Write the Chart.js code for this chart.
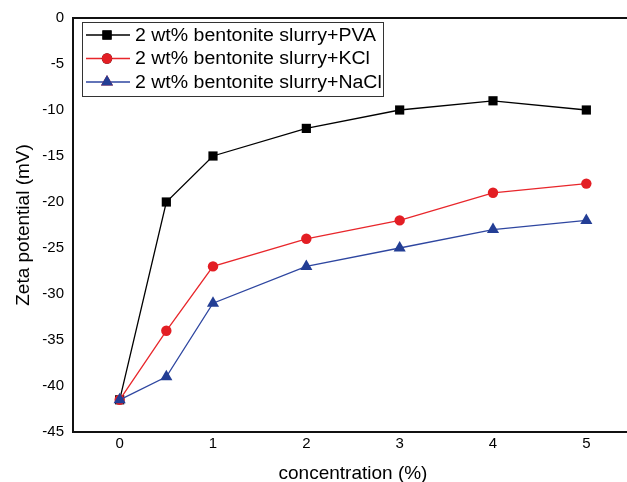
<!DOCTYPE html>
<html lang="en">
<head>
  <meta charset="UTF-8">
  <title>Zeta potential vs concentration</title>
  <script src="https://cdn.jsdelivr.net/npm/chart.js"></script>
  <style>
    html, body { margin: 0; padding: 0; background: #fff; overflow: hidden; }
    #wrap { width: 640px; height: 482px; }
  </style>
</head>
<body>
  <div id="wrap"><canvas id="zetaChart" width="640" height="482"></canvas></div>

  <script>
    const concentration = [0, 0.5, 1, 2, 3, 4, 5];
    const pvaValues  = [-41.5, -20, -15, -12, -10, -9, -10];
    const kclValues  = [-41.5, -34, -27, -24, -22, -19, -18];
    const naclValues = [-41.5, -39, -31, -27, -25, -23, -22];
    const seriesLabels = [
      '2 wt% bentonite slurry+PVA',
      '2 wt% bentonite slurry+KCl',
      '2 wt% bentonite slurry+NaCl'
    ];
    const xTicks = [0, 1, 2, 3, 4, 5];
    const yTicks = [0, -5, -10, -15, -20, -25, -30, -35, -40, -45];

    const FONT = 'Arial, "Liberation Sans", sans-serif';

    function toPoints(vals) {
      return concentration.map((c, i) => ({ x: c, y: vals[i] }));
    }

    // frame line along the top + legend box inside the plot
    const framePlugin = {
      id: 'frame',
      afterDraw(chart) {
        const ctx = chart.ctx;
        const a = chart.chartArea;
        ctx.save();
        ctx.strokeStyle = '#111';
        ctx.lineWidth = 2;
        ctx.beginPath();
        ctx.moveTo(a.left, a.top);
        ctx.lineTo(a.right + 5, a.top);
        ctx.stroke();

        // legend
        ctx.lineWidth = 1;
        ctx.strokeStyle = '#333';
        ctx.strokeRect(82.5, 22.5, 301, 74);
        ctx.font = '18px ' + FONT;
        ctx.textBaseline = 'middle';
        // the original lettering is a bit wider than Arial, stretch it a little
        const stretch = 241 / ctx.measureText(seriesLabels[0]).width;
        chart.data.datasets.forEach((ds, i) => {
          const y = 35 + i * 23.5;
          ctx.strokeStyle = ds.borderColor;
          ctx.lineWidth = 1.3;
          ctx.beginPath();
          ctx.moveTo(86, y);
          ctx.lineTo(130, y);
          ctx.stroke();
          Chart.helpers.drawPoint(ctx, {
            pointStyle: ds.pointStyle,
            radius: ds.pointRadius,
            rotation: 0,
            borderWidth: 0
          }, 107, y);
          ctx.fillStyle = ds.pointBackgroundColor;
          ctx.fill();
          ctx.save();
          ctx.translate(135, y + 1);
          ctx.scale(stretch, 1);
          ctx.fillStyle = '#000';
          ctx.fillText(ds.label, 0, 0);
          ctx.restore();
        });
        ctx.restore();
      }
    };

    const ctx = document.getElementById('zetaChart').getContext('2d');
    new Chart(ctx, {
      type: 'scatter',
      data: {
        datasets: [
          {
            label: seriesLabels[0],
            data: toPoints(pvaValues),
            showLine: true,
            borderColor: '#000000',
            backgroundColor: '#000000',
            pointBackgroundColor: '#000000',
            borderWidth: 1.3,
            pointStyle: 'rect',
            pointRadius: 6.5,
            pointBorderWidth: 0,
            order: 2
          },
          {
            label: seriesLabels[1],
            data: toPoints(kclValues),
            showLine: true,
            borderColor: '#e8262b',
            backgroundColor: '#e31e24',
            pointBackgroundColor: '#e31e24',
            borderWidth: 1.3,
            pointStyle: 'circle',
            pointRadius: 5.2,
            pointBorderWidth: 0,
            order: 1
          },
          {
            label: seriesLabels[2],
            data: toPoints(naclValues),
            showLine: true,
            borderColor: '#2e46a0',
            backgroundColor: '#233e95',
            pointBackgroundColor: '#233e95',
            borderWidth: 1.3,
            pointStyle: 'triangle',
            pointRadius: 7,
            pointBorderWidth: 0,
            order: 0
          }
        ]
      },
      options: {
        responsive: false,
        animation: false,
        events: [],
        layout: { padding: { top: 18, right: 0, left: 0, bottom: 0 } },
        plugins: {
          legend: { display: false },
          tooltip: { enabled: false }
        },
        scales: {
          x: {
            type: 'linear',
            min: -0.5,
            max: 5.5,
            afterBuildTicks: axis => { axis.ticks = xTicks.map(v => ({ value: v })); },
            afterFit: axis => { axis.height = 50; },
            grid: { display: false, drawTicks: false },
            border: { display: true, color: '#111', width: 2 },
            ticks: { color: '#000', font: { family: FONT, size: 15 }, padding: 3 },
            title: {
              display: true,
              text: 'concentration (%)',
              color: '#000',
              font: { family: FONT, size: 19, lineHeight: 0.9 },
              padding: { top: 0, bottom: 0 }
            }
          },
          y: {
            type: 'linear',
            min: -45,
            max: 0,
            afterBuildTicks: axis => { axis.ticks = yTicks.map(v => ({ value: v })); },
            afterFit: axis => { axis.width = 73; },
            grid: { display: false, drawTicks: false },
            border: { display: true, color: '#111', width: 2 },
            ticks: { color: '#000', font: { family: FONT, size: 15 }, padding: 9 },
            title: {
              display: true,
              text: 'Zeta potential (mV)',
              color: '#000',
              font: { family: FONT, size: 19 },
              padding: { top: 12, bottom: 0 }
            }
          }
        }
      },
      plugins: [framePlugin]
    });
  </script>
</body>
</html>
